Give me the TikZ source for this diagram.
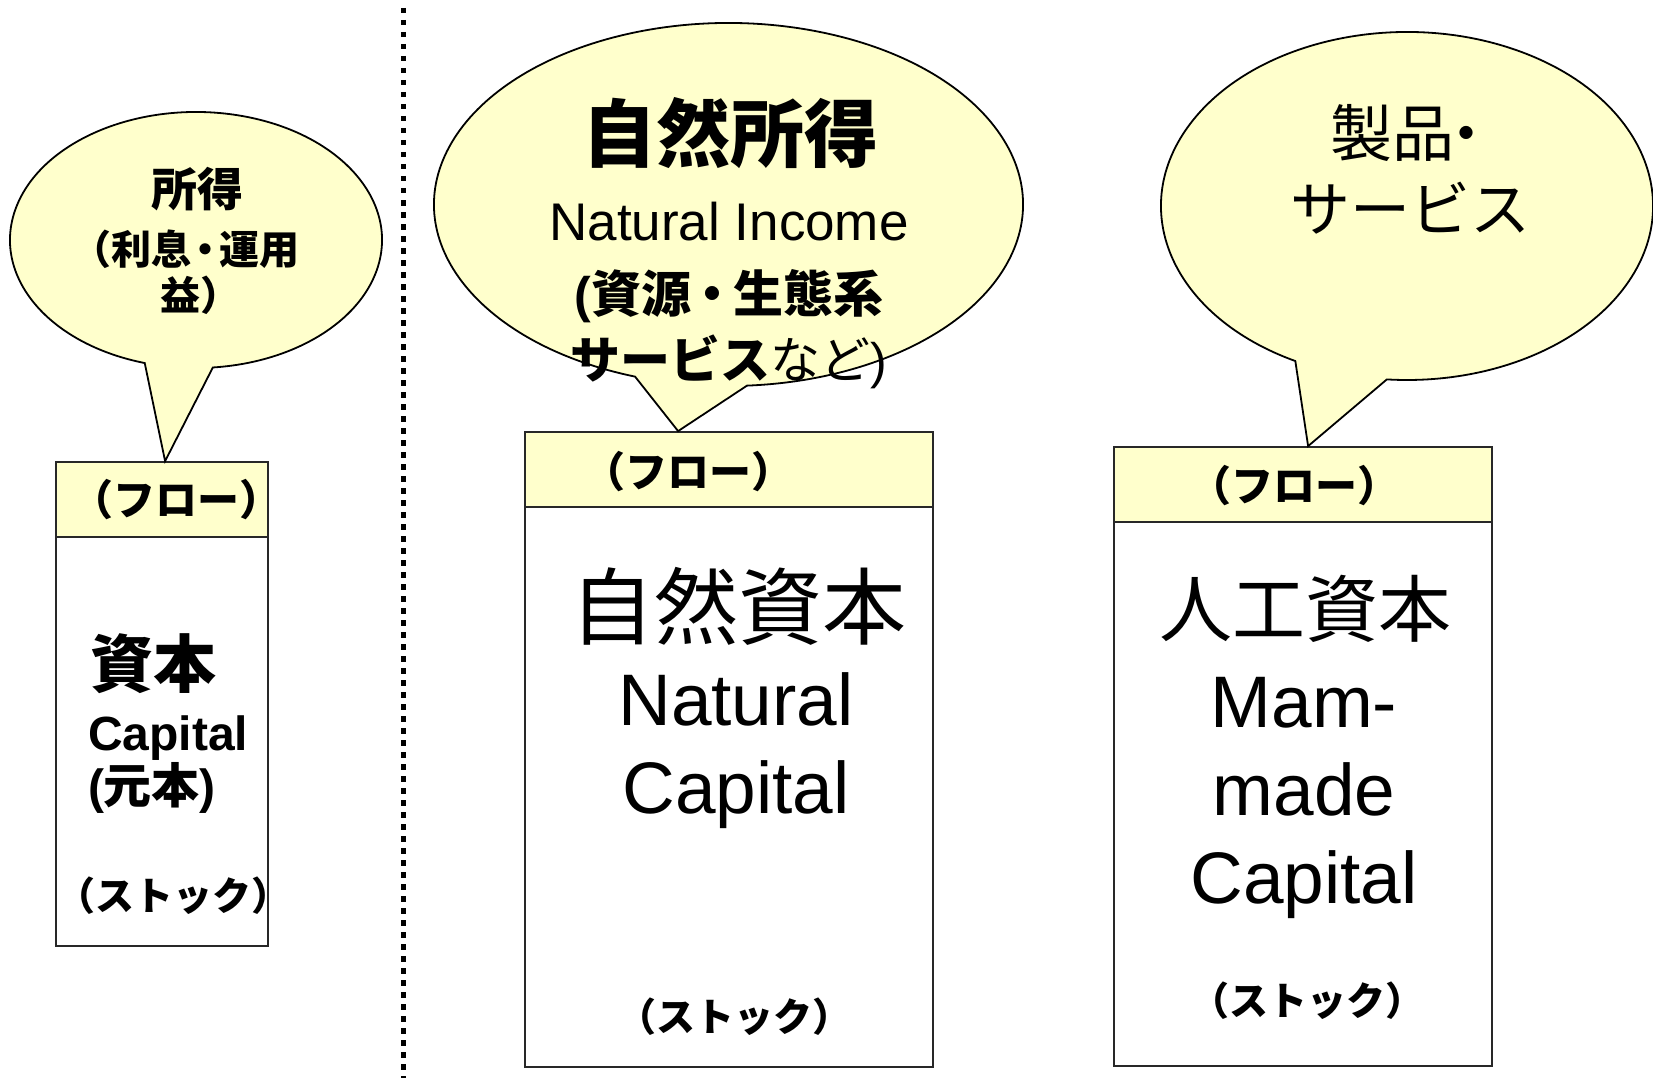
\documentclass[tikz,border=0pt]{standalone}
\usepackage{fontspec}
\setmainfont{Liberation Sans}
\newfontfamily\jp{Noto Sans CJK JP}
\newcommand\jpb{\jp\bfseries}
\usetikzlibrary{calc}
\newcommand\setfs[1]{\fontsize{#1}{#1}\selectfont}
\definecolor{paleyellow}{RGB}{255,255,204}
\definecolor{boxline}{RGB}{40,40,40}
\begin{document}
\begin{tikzpicture}[x=1pt,y=-1pt,
  bubble/.style={fill=paleyellow,draw=black,line width=1.8pt,line join=miter},
  flowbox/.style={rectangle,fill=paleyellow,draw=boxline,line width=1.8pt,inner sep=0pt},
  stockbox/.style={rectangle,fill=white,draw=boxline,line width=1.8pt,inner sep=0pt},
  txt/.style={inner sep=0pt,outer sep=0pt,text=black},
  divider/.style={line width=5.5pt,dash pattern=on 5.5pt off 6.5pt,draw=black}]
\useasboundingbox (0,0) rectangle (1653,1078);
\fill[white] (0,0) rectangle (1653,1078);

% dotted separator
\coordinate (sepTop) at (403.5,8);
\coordinate (sepBot) at (403.5,1078);
\draw[divider] (sepTop) -- (sepBot);

% boxes
\node[flowbox,minimum width=212pt,minimum height=75pt] (flowL) at (162,499.5) {};
\node[stockbox,minimum width=212pt,minimum height=409pt] (stockL) at (162,741.5) {};
\node[flowbox,minimum width=408pt,minimum height=75pt] (flowM) at (729,469.5) {};
\node[stockbox,minimum width=408pt,minimum height=560pt] (stockM) at (729,787) {};
\node[flowbox,minimum width=378pt,minimum height=75pt] (flowR) at (1303,484.5) {};
\node[stockbox,minimum width=378pt,minimum height=544pt] (stockR) at (1303,794) {};

% callout tips on the flow boxes
\coordinate (tipL) at ($(flowL.north west)+(110,0)$);
\coordinate (tipM) at ($(flowM.north west)+(154,0)$);
\coordinate (tipR) at ($(flowR.north west)+(195,0)$);

% bubbles
\coordinate (cL) at (196,240);
\path[bubble] (tipL) -- ($(cL)+(106:186 and 128)$)
  arc[start angle=106,end angle=444.8,x radius=186,y radius=128] -- cycle;
\coordinate (cM) at (728.5,204.5);
\path[bubble] (tipM) -- ($(cM)+(108.5:294.5 and 181.5)$)
  arc[start angle=108.5,end angle=446.4,x radius=294.5,y radius=181.5] -- cycle;
\coordinate (cR) at (1407,206);
\path[bubble] (tipR) -- ($(cR)+(117:246 and 174)$)
  arc[start angle=117,end angle=454.7,x radius=246,y radius=174] -- cycle;

% left bubble text
\node[txt] (bL1) at (197,189) {\jpb\setfs{46}所得};
\node[txt] (bL2) at (185,249) {\jpb\setfs{40}（利息\hspace{-0.15em}・\hspace{-0.15em}運用};
\node[txt] (bL3) at (200,295) {\jpb\setfs{40}益）};

% middle bubble text
\node[txt] (bM1) at (730,133) {\jpb\setfs{74}自然所得};
\node[txt,anchor=base] (bM2) at (729,240) {\setfs{53}Natural Income};
\node[txt] (bM3) at (729,296) {\setfs{50}{\bfseries(}{\jpb 資源\hspace{-0.08em}・\hspace{-0.08em}生態系}};
\node[txt] (bM4) at (729,362) {\setfs{50}{\jpb サービス}{\jp など})};

% right bubble text
\node[txt] (bR1) at (1414,133) {\jp\setfs{62}製品\hspace{-0.3em}・};
\node[txt] (bR2) at (1410,208) {\jp\setfs{60}サービス};

% left box text
\node[txt] (fL) at (176,500) {\jpb\setfs{42}（フロー）};
\node[txt] (sL1) at (153,664) {\jpb\setfs{63}資本};
\node[txt,anchor=base west] (sL2) at (88,750) {\bfseries\setfs{48}Capital};
\node[txt,anchor=base west] (sL3) at (88,803) {\setfs{48}{\bfseries(}{\jpb 元本}{\bfseries)}};
\node[txt] (sL4) at (173,896) {\jpb\setfs{39}（ストック）};

% middle box text
\node[txt] (fM) at (688,472) {\jpb\setfs{42}（フロー）};
\node[txt] (sM1) at (738,606) {\jp\setfs{84}自然資本};
\node[txt,anchor=base] (sM2) at (736,725) {\setfs{73}Natural};
\node[txt,anchor=base] (sM3) at (736,813) {\setfs{73}Capital};
\node[txt] (sM4) at (734,1017) {\jpb\setfs{39}（ストック）};

% right box text
\node[txt] (fR) at (1294,486) {\jpb\setfs{42}（フロー）};
\node[txt] (sR1) at (1305,609) {\jp\setfs{73}人工資本};
\node[txt,anchor=base] (sR2) at (1304,727) {\setfs{73}Mam-};
\node[txt,anchor=base] (sR3) at (1304,815) {\setfs{73}made};
\node[txt,anchor=base] (sR4) at (1304,903) {\setfs{73}Capital};
\node[txt] (sR5) at (1307,1001) {\jpb\setfs{39}（ストック）};
\end{tikzpicture}
\end{document}
